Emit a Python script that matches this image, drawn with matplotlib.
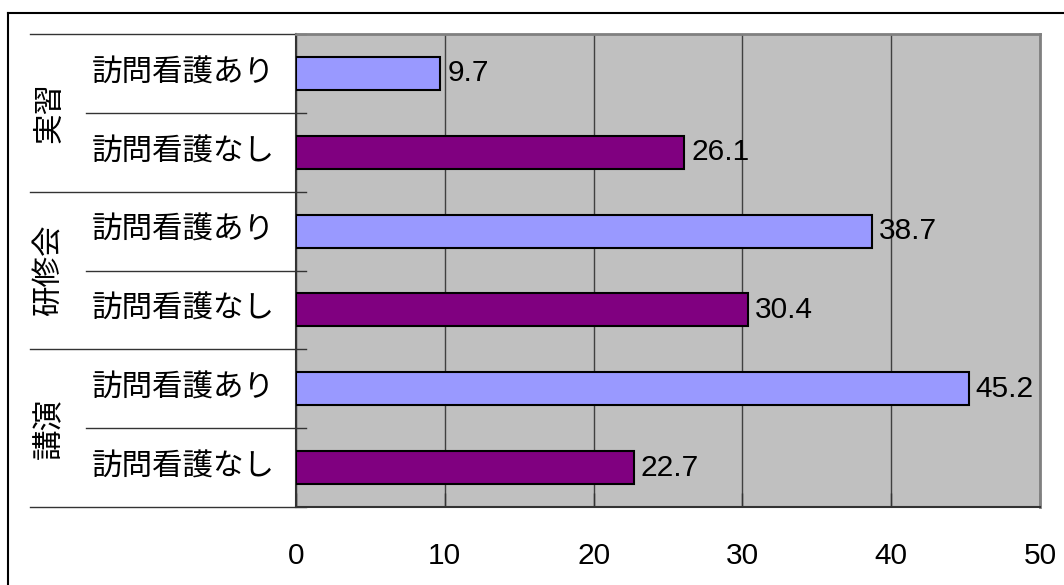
import matplotlib.pyplot as plt
from matplotlib.lines import Line2D
from matplotlib.transforms import blended_transform_factory

plt.rcParams['font.family'] = ['Liberation Sans', 'Noto Sans CJK JP', 'DejaVu Sans']

# 区分ごとの値（上から順）
groups = ['実習', '研修会', '講演']
sub_labels = ['訪問看護あり', '訪問看護なし']
values = [9.7, 26.1, 38.7, 30.4, 45.2, 22.7]
bar_colors = ['#9999FF', '#800080']
xticks = [0, 10, 20, 30, 40, 50]

W, H = 1064, 585
fig = plt.figure(figsize=(W / 100, H / 100), dpi=100)
fig.patch.set_facecolor('white')

# 外枠（右と下は画像の外まで続く）
fig.add_artist(Line2D([8 / W, 8 / W], [0, 1 - 13 / H], transform=fig.transFigure,
                      color='black', lw=1.5))
fig.add_artist(Line2D([8 / W, 1], [1 - 13 / H, 1 - 13 / H], transform=fig.transFigure,
                      color='black', lw=1.5))

left, right, top, bottom = 296 / W, 1040 / W, 1 - 34 / H, 1 - 507 / H
ax = fig.add_axes([left, bottom, right - left, top - bottom])
ax.set_facecolor('#C0C0C0')

n = len(values)
ypos = [i + 0.5 for i in range(n)]
colors = [bar_colors[i % 2] for i in range(n)]
bars = ax.barh(ypos, values, height=0.42, color=colors, edgecolor='black',
               linewidth=1.5, zorder=3)
for b, v in zip(bars, values):
    ax.annotate(f'{v}', (v, b.get_y() + b.get_height() / 2), xytext=(5, 0),
                textcoords='offset points', va='center', ha='left', fontsize=21.5)

ax.set_xlim(0, 50)
ax.set_ylim(n, 0)
ax.set_xticks(xticks)
ax.set_xticklabels([str(t) for t in xticks], fontsize=21.5)
ax.tick_params(axis='x', direction='in', length=10, width=1, color='#333333', pad=25)
ax.set_yticks([])
ax.xaxis.grid(True, color='#404040', lw=1)
ax.set_axisbelow(True)

for side in ['top', 'right']:
    ax.spines[side].set_color('#808080')
    ax.spines[side].set_linewidth(2)
for side in ['left', 'bottom']:
    ax.spines[side].set_color('#333333')
    ax.spines[side].set_linewidth(1.5)

# 左側の分類ラベルと区切り線
tr = blended_transform_factory(ax.transAxes, ax.transData)
aw = right * W - left * W
x_major = -(296 - 30) / aw
x_minor = -(296 - 86) / aw
x_end = 10 / aw
for g in range(len(groups) + 1):
    y = g * 2
    ax.plot([x_major, x_end], [y, y], transform=tr, color='#333333', lw=1, clip_on=False)
for g in range(len(groups)):
    y = g * 2 + 1
    ax.plot([x_minor, x_end], [y, y], transform=tr, color='#333333', lw=1, clip_on=False)
    ax.text(-(296 - 50) / aw, g * 2 + 1, groups[g], transform=tr, rotation=90,
            ha='center', va='center', fontsize=22)
for i in range(n):
    ax.text(-(296 - 183) / aw, i + 0.5, sub_labels[i % 2], transform=tr,
            ha='center', va='center', fontsize=22)

fig.savefig('out.png', dpi=100)
